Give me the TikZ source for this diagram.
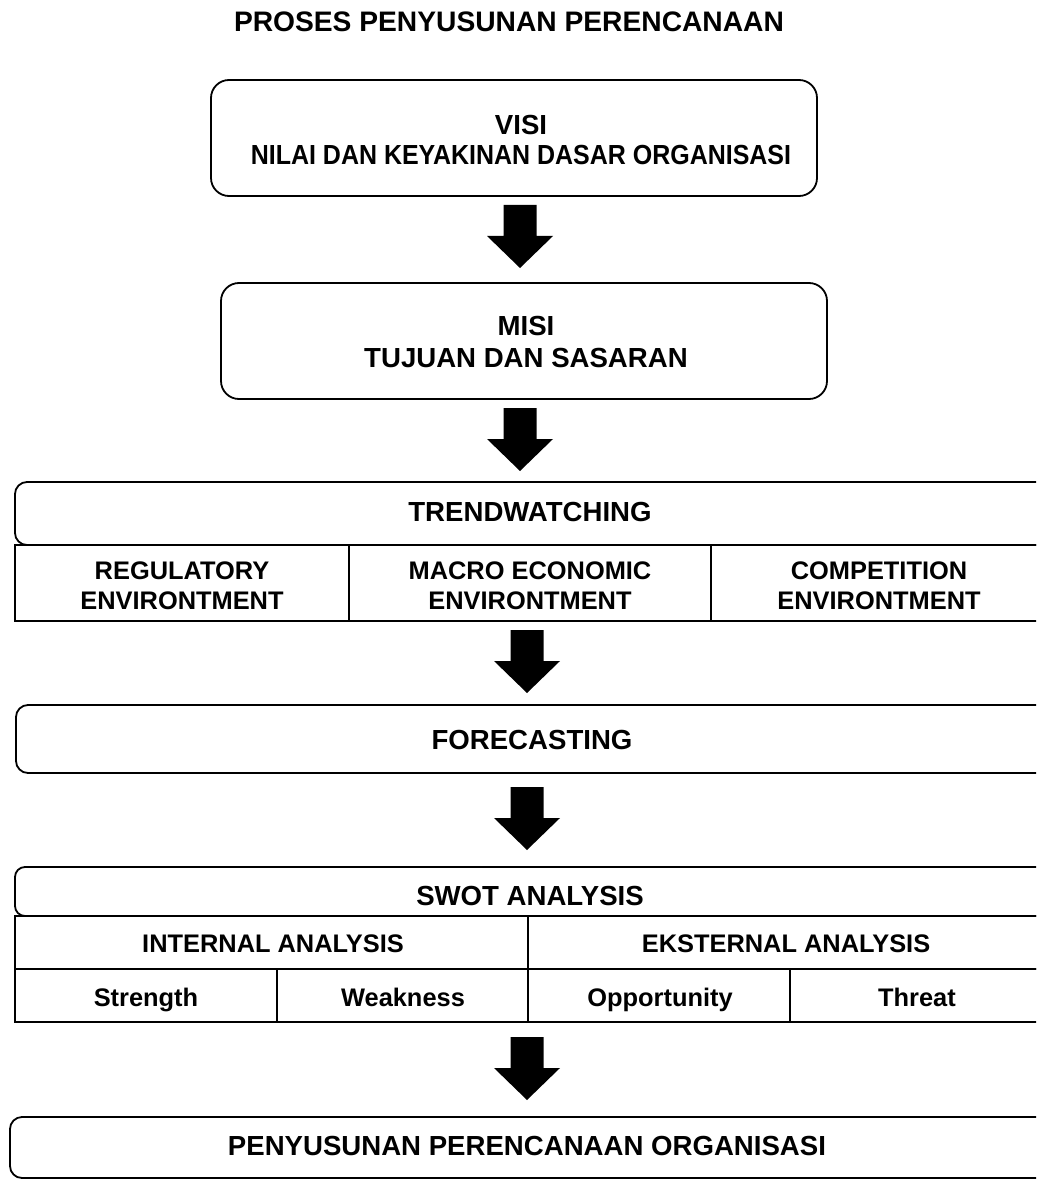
\documentclass[tikz,border=0pt]{standalone}
\usepackage{fontspec}
\setmainfont{Liberation Sans}
\usetikzlibrary{calc}

\tikzset{
  frame/.style={draw=black, line width=1.8pt},
  rframe/.style={frame, rounded corners=#1},
  big/.style={font=\fontsize{27.6}{30}\selectfont\bfseries, align=center, inner sep=0pt},
  mid/.style={font=\fontsize{25.4}{30}\selectfont\bfseries, align=center, inner sep=0pt},
  bigline/.style={text height=19.8pt, text depth=0pt},
  midline/.style={text height=18.2pt, text depth=0pt},
  blockarrow/.style={fill=black},
}

% solid down-pointing block arrow hanging from a named coordinate
\newcommand\downblock[1]{%
  \fill[blockarrow, shift={(#1)}] (-16.5,0) -- (16.5,0) -- (16.5,31) -- (33,31)
     -- (0,63) -- (-33,31) -- (-16.5,31) -- cycle;}

\begin{document}
\begin{tikzpicture}[x=1pt, y=-1pt]
\clip (0,0) rectangle (1036,1182);
\fill[white] (0,0) rectangle (1036,1182);

% heading
\node[big, font=\fontsize{28.2}{30}\selectfont\bfseries, bigline] (title) at (509,22)
  {PROSES PENYUSUNAN PERENCANAAN};

% vision
\draw[rframe=18pt] (211,80) rectangle (817,196);
\node[big] (visi) at (521,140)
  {VISI\\\scalebox{0.905}[1]{NILAI DAN KEYAKINAN DASAR ORGANISASI}};

% mission
\draw[rframe=18pt] (221,283) rectangle (827,399);
\node[big, font=\fontsize{27.6}{32}\selectfont\bfseries] (misi) at (526,342)
  {MISI\\TUJUAN DAN SASARAN};

% trend watching
\draw[rframe=12pt] (15,482) rectangle (1070,545);
\node[big, bigline] (trend) at (530,512) {TRENDWATCHING};
\draw[frame] (15,545) rectangle (1070,621);
\draw[frame] (349,545) -- (349,621);
\draw[frame] (711,545) -- (711,621);
\node[mid] (reg) at (182,586) {REGULATORY\\ENVIRONTMENT};
\node[mid] (macro) at (530,586) {MACRO ECONOMIC\\ENVIRONTMENT};
\node[mid] (comp) at (879,586) {COMPETITION\\ENVIRONTMENT};

% forecasting
\draw[rframe=12pt] (16,705) rectangle (1070,773);
\node[big, bigline] (fore) at (532,740) {FORECASTING};

% SWOT
\draw[rframe=10pt] (15,867) rectangle (1070,916);
\node[big, bigline] (swot) at (530,896) {SWOT ANALYSIS};
\draw[frame] (15,916) rectangle (1070,969);
\draw[frame] (528,916) -- (528,969);
\node[mid, midline] (intern) at (273,943) {INTERNAL ANALYSIS};
\node[mid, midline] (extern) at (786,943) {EKSTERNAL ANALYSIS};
\draw[frame] (15,969) rectangle (1070,1022);
\draw[frame] (277,969) -- (277,1022);
\draw[frame] (528,969) -- (528,1022);
\draw[frame] (790,969) -- (790,1022);
\node[mid, midline] (str) at (146,997) {Strength};
\node[mid, midline] (weak) at (403,997) {Weakness};
\node[mid, midline] (opp) at (660,997) {Opportunity};
\node[mid, midline] (thr) at (917,997) {Threat};

% final step
\draw[rframe=12pt] (10,1117) rectangle (1070,1178);
\node[big, bigline] (plan) at (527,1146) {PENYUSUNAN PERENCANAAN ORGANISASI};

% flow arrows between the stages
\coordinate (a1) at (520,205);
\coordinate (a2) at (520,408);
\coordinate (a3) at (527,630);
\coordinate (a4) at (527,787);
\coordinate (a5) at (527,1037);
\downblock{a1}
\downblock{a2}
\downblock{a3}
\downblock{a4}
\downblock{a5}
\end{tikzpicture}
\end{document}
